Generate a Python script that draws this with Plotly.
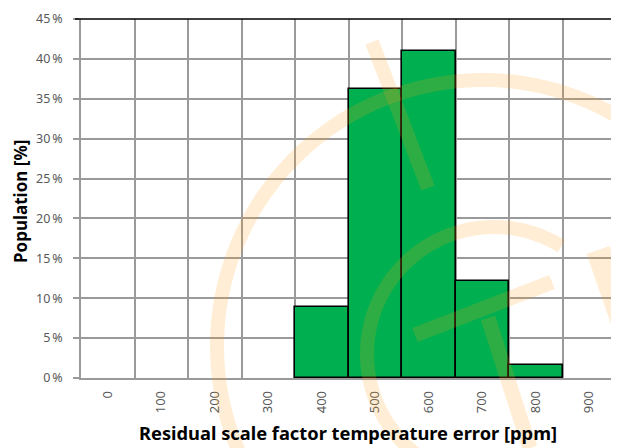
import math
import plotly.graph_objects as go

categories = ["0", "100", "200", "300", "400", "500", "600", "700", "800", "900"]
population_pct = [0, 0, 0, 0, 8.9, 36.2, 41.0, 12.2, 1.6, 0]
y_ticks = [0, 5, 10, 15, 20, 25, 30, 35, 40, 45]
y_tick_labels = [f"{v}\u2009%" for v in y_ticks]

# page body has an 8px margin: figure occupies screen x 8..619, y 8..448
OFF = 8
W, H = 619 - OFF, 448 - OFF
X0, X1, Y0, Y1 = 81, 616, 19, 378          # plot area in screen pixels
L, R, T, B = X0 - OFF, 619 - X1, Y0 - OFF, 448 - Y1
PW, PH = X1 - X0, Y1 - Y0

def px(x, y):
    return ((x - X0) / PW, (Y1 - y) / PH)

fig = go.Figure()
fig.add_trace(go.Bar(
    x=categories, y=population_pct,
    marker=dict(color="#00B050",
                line=dict(color="black", width=[1.6 if v > 0 else 0 for v in population_pct])),
    showlegend=False,
))

grid = "#9A9A9A"
font = "Noto Sans"
fig.update_layout(
    width=W, height=H,
    margin=dict(l=L, r=R, t=T, b=B, autoexpand=False),
    paper_bgcolor="white", plot_bgcolor="white",
    bargap=0,
    xaxis=dict(type="category", tickson="boundaries", showgrid=True, gridcolor=grid, gridwidth=1.5,
               showline=True, linecolor=grid, linewidth=1.5, ticks="", tickangle=-90,
               automargin=False, ticklabelstandoff=6,
               tickfont=dict(family=font, size=13, color="#595959")),
    yaxis=dict(range=[0, 45], tickmode="array", tickvals=y_ticks, ticktext=y_tick_labels,
               showgrid=True, gridcolor=grid, automargin=False, ticklabelstandoff=8,
               gridwidth=1.5, showline=True, linecolor=grid, linewidth=1.5, ticks="outside",
               ticklen=6, tickcolor=grid, tickwidth=1.5, zeroline=False,
               tickfont=dict(family=font, size=12.5, color="#595959")),
)

fig.add_annotation(text="<b>Residual scale factor temperature error [ppm]</b>",
                   xref="paper", yref="paper", x=px(348, 0)[0], y=px(0, 432)[1],
                   showarrow=False, xanchor="center", yanchor="middle",
                   font=dict(family=font, size=18.3, color="black"))
fig.add_annotation(text="<b>Population [%]</b>", textangle=-90,
                   xref="paper", yref="paper", x=px(20, 0)[0], y=px(0, 202)[1],
                   showarrow=False, xanchor="center", yanchor="middle",
                   font=dict(family=font, size=17, color="black"))

# top and right black frame
fig.add_shape(type="line", xref="paper", yref="paper", x0=-6 / PW, x1=1, y0=1, y1=1,
              line=dict(color="black", width=1.6))
fig.add_shape(type="line", xref="paper", yref="paper", x0=1, x1=1, y0=0, y1=1,
              line=dict(color="black", width=1.6))

# faint watermark
wm = "rgba(255,160,20,0.18)"

def arc(cx, cy, r, a0, a1, n=80):
    pts = []
    for i in range(n + 1):
        a = math.radians(a0 + (a1 - a0) * i / n)
        pts.append(px(cx + r * math.cos(a), cy - r * math.sin(a)))
    return "M " + " L ".join(f"{x:.4f},{y:.4f}" for x, y in pts)

for cx, cy, r, a0, a1 in [(483, 346, 266, 60, 250), (494, 354, 127, 58, 262)]:
    fig.add_shape(type="path", xref="paper", yref="paper", path=arc(cx, cy, r, a0, a1),
                  line=dict(color=wm, width=14), layer="above")

for (x0, y0), (x1, y1), w in [((372, 42), (428, 188), 14), ((415, 335), (552, 282), 15),
                              ((488, 318), (530, 448), 15), ((598, 250), (650, 400), 24)]:
    a, b = px(x0, y0)
    c, d = px(x1, y1)
    fig.add_shape(type="line", xref="paper", yref="paper", x0=a, y0=b, x1=c, y1=d,
                  line=dict(color=wm, width=w), layer="above")

fig.write_html("out.html")
